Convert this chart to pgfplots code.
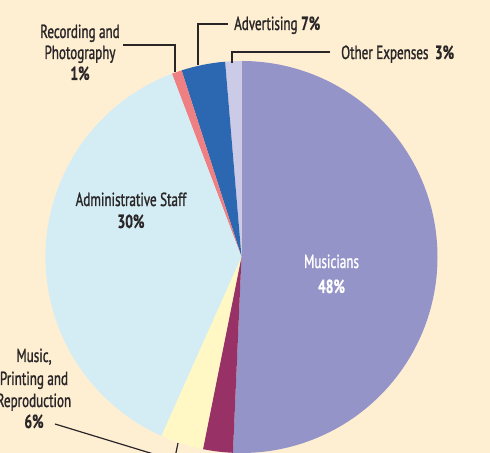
\documentclass[border=0pt]{standalone}
\usepackage{pgfplots}
\pgfplotsset{compat=1.18}
\usepackage{fontspec}
\setmainfont{PT Sans}[FakeStretch=0.69, FakeBold=1.2]
\newfontfamily\pct{PT Sans Bold}[FakeStretch=0.72, FakeBold=0.6]
\definecolor{bgc}{HTML}{FEEFD3}
\definecolor{musc}{HTML}{9594C8}
\definecolor{adm}{HTML}{D4EDF4}
\definecolor{oth}{HTML}{CCCBE7}
\definecolor{adv}{HTML}{2B68B1}
\definecolor{rec}{HTML}{EE7F83}
\definecolor{prt}{HTML}{FFF8C5}
\definecolor{mar}{HTML}{983266}
\definecolor{txt}{HTML}{2A2627}
\tikzset{
  lbl/.style={anchor=base, inner sep=0pt, text=txt, font=\fontsize{19}{22}\selectfont},
  lbll/.style={anchor=base west, inner sep=0pt, text=txt, font=\fontsize{19}{22}\selectfont}}
\begin{document}
\begin{tikzpicture}
\path[use as bounding box] (0,0) rectangle (490bp,453bp);
\clip (0,0) rectangle (490bp,453bp);
\fill[bgc] (0,0) rectangle (490bp,453bp);
\begin{axis}[at={(0,0)}, anchor=south west, scale only axis, width=490bp, height=453bp,
  xmin=0, xmax=490, ymin=0, ymax=453, hide axis, clip=false]
% slices: start and end angles (degrees)
\fill[musc] (axis cs:241.5,196) -- ++(90:196bp) arc[start angle=90, end angle=-92.5, radius=196bp] -- cycle;
\fill[oth] (axis cs:241.5,196) -- ++(90:196bp) arc[start angle=90, end angle=94.8, radius=196bp] -- cycle;
\fill[adv] (axis cs:241.5,196) -- ++(94.8:196bp) arc[start angle=94.8, end angle=107.8, radius=196bp] -- cycle;
\fill[rec] (axis cs:241.5,196) -- ++(107.8:196bp) arc[start angle=107.8, end angle=110.8, radius=196bp] -- cycle;
\fill[adm] (axis cs:241.5,196) -- ++(110.8:196bp) arc[start angle=110.8, end angle=245.9, radius=196bp] -- cycle;
\fill[prt] (axis cs:241.5,196) -- ++(245.9:196bp) arc[start angle=245.9, end angle=258.7, radius=196bp] -- cycle;
\fill[mar] (axis cs:241.5,196) -- ++(258.7:196bp) arc[start angle=258.7, end angle=267.5, radius=196bp] -- cycle;
% leader lines
\draw[txt, line width=1.2bp] (axis cs:123,408) -- (axis cs:175,408) -- (axis cs:175,381);
\draw[txt, line width=1.2bp] (axis cs:228,429) -- (axis cs:198,429) -- (axis cs:198,388);
\draw[txt, line width=1.2bp] (axis cs:330,401) -- (axis cs:232,401) -- (axis cs:232,390);
\draw[txt, line width=1.2bp] (axis cs:55,29) -- (axis cs:160,-3);
\draw[txt, line width=1.2bp] (axis cs:178,10) -- (axis cs:175.3,-3);
% labels
\node[lbl] at (axis cs:80,415) {Recording and};
\node[lbl] at (axis cs:80,394) {Photography};
\node[lbl] at (axis cs:80,373) {\pct 1\%};
\node[lbll] at (axis cs:234,423) {Advertising {\pct 7\%}};
\node[lbll] at (axis cs:341,394) {Other Expenses\hspace{3pt} {\pct 3\%}};
\node[lbl] at (axis cs:131,247) {Administrative Staff};
\node[lbl] at (axis cs:131,225) {\pct 30\%};
\node[lbl, text=white] at (axis cs:331.5,185) {Musicians};
\node[lbl, text=white] at (axis cs:331.5,160) {\pct 48\%};
\node[lbl] at (axis cs:34,91) {Music,};
\node[lbl] at (axis cs:34,68) {Printing and};
\node[lbl] at (axis cs:34,46) {Reproduction};
\node[lbl] at (axis cs:34,25) {\pct 6\%};
\end{axis}
\end{tikzpicture}
\end{document}
